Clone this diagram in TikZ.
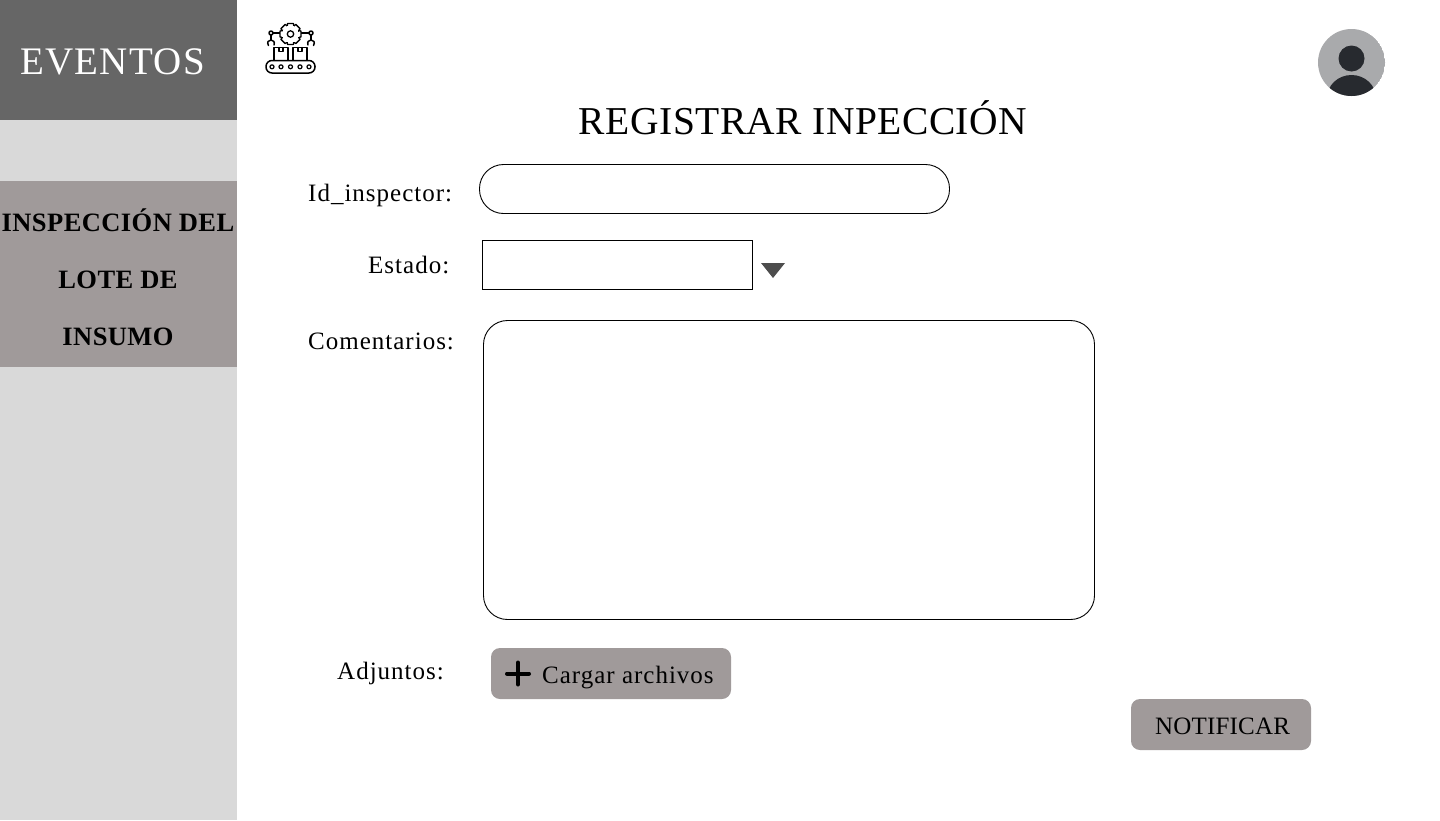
\documentclass[tikz,border=0pt]{standalone}
\usepackage{fontspec}
\setmainfont{Liberation Serif}
\definecolor{panelgray}{HTML}{D9D9D9}
\definecolor{headgray}{HTML}{666666}
\definecolor{btngray}{HTML}{A09A9A}
\definecolor{avatarbg}{HTML}{A9AAAC}
\definecolor{avatarfg}{HTML}{272A2F}
\definecolor{arrowgray}{HTML}{4D4D4D}
\usetikzlibrary{positioning}

\begin{document}
\begin{tikzpicture}[x=1pt,y=-1pt]
    % `field' is used for the input boxes.
    % `lbl' is used for the form labels.
    % `btn' is used for the two grey buttons.
    \tikzstyle{field} = [draw=black,fill=white,line width=0.9pt,inner sep=0pt]
    \tikzstyle{lbl} = [font=\fontsize{25}{25}\selectfont\addfontfeature{LetterSpace=4},inner sep=0pt,anchor=base west]
    \tikzstyle{btn} = [fill=btngray,rounded corners=9pt,inner sep=0pt]
    \tikzstyle{menu} = [font=\bfseries\fontsize{26.5}{26.5}\selectfont\addfontfeature{LetterSpace=1.6},inner sep=0pt,anchor=base]
    \tikzstyle{iconline} = [line width=1.5pt,line join=round,line cap=round]
    \useasboundingbox (0,0) rectangle (1440,820);
    % Side bar.
    \fill[panelgray] (0,0) rectangle (237,820);
    \fill[headgray] (0,0) rectangle (237,120);
    \fill[btngray] (0,181) rectangle (237,367);
    \node[white,font=\fontsize{39}{39}\selectfont\addfontfeature{LetterSpace=3.3},inner sep=0pt,anchor=base] (eventos) at (112.5,74) {EVENTOS};
    \node[menu] (menu0) at (118,231) {INSPECCIÓN DEL};
    \node[menu] (menu1) at (118,288) {LOTE DE};
    \node[menu] (menu2) at (118,345) {INSUMO};
    % Title.
    \node[font=\fontsize{39.5}{39.5}\selectfont\addfontfeature{LetterSpace=1.2},inner sep=0pt,anchor=base] (title) at (803,134) {REGISTRAR INPECCIÓN};
    % Form.
    \node[lbl] (lblid) at (308,201) {Id\_inspector:};
    \node[lbl] (lblestado) at (368,273) {Estado:};
    \node[lbl] (lblcom) at (308,349) {Comentarios:};
    \node[lbl] (lbladj) at (337,679) {Adjuntos:};
    \draw[field,rounded corners=24pt] (479.5,164.5) rectangle (949.5,213.5);
    \draw[field] (482.5,240.5) rectangle (752.5,289.5);
    \fill[arrowgray] (761,263) -- (785,263) -- (773,278) -- cycle;
    \draw[field,rounded corners=24pt] (483.5,320.5) rectangle (1094.5,619.5);
    % Buttons.
    \fill[btn] (491,648) rectangle (731,699);
    \draw[line width=4pt,line cap=round] (507,673.5) -- (529,673.5) (518,662.5) -- (518,684.5);
    \node[lbl] (upload) at (542,683) {Cargar archivos};
    \fill[btn] (1131,699) rectangle (1311,750);
    \node[font=\fontsize{25}{25}\selectfont\addfontfeature{LetterSpace=0.8},inner sep=0pt,anchor=base] (notify) at (1222.5,734) {NOTIFICAR};
    % Avatar.
    \begin{scope}
      \clip (1351.5,62.5) circle (33.5);
      \fill[avatarbg] (1351.5,62.5) circle (33.5);
      \fill[avatarfg] (1351.5,58.5) circle (13);
      \fill[avatarfg] (1351.5,98) ellipse (24.5 and 23);
    \end{scope}
    % Factory icon.
    \begin{scope}[iconline]
      \draw (273,33) -- (282,33) (298,33) -- (309,33);
      \foreach \a in {0,45,...,315} {
        \draw[fill=white,line width=1.3pt,rotate around={\a:(290.5,34)}] (287,27) -- (287.5,23.5) -- (293.5,23.5) -- (294,27);
      }
      \draw[fill=white,draw=white,line width=0pt] (290.5,34) circle (8);
      \draw[line width=1.3pt] (290.5,34) circle (3.2);
      \draw[fill=white] (271,33) circle (2);
      \draw[fill=white] (311,33) circle (2);
      \draw (271,35) -- (271,40) (311,35) -- (311,40);
      \draw (268.5,45.5) .. controls (266.5,42) and (268.5,40) .. (271,40) .. controls (273.5,40) and (275,42) .. (274,45);
      \draw (308,45) .. controls (307,42) and (308.5,40) .. (311,40) .. controls (313.5,40) and (315.5,42) .. (313.5,45.5);
      \draw (274,60) -- (274,47.5) -- (288,47.5) -- (288,60);
      \draw (293,60) -- (293,47.5) -- (307,47.5) -- (307,60);
      \draw[line width=1.2pt] (279,47.5) -- (279,51.5) -- (283,51.5) -- (283,47.5);
      \draw[line width=1.2pt] (298,47.5) -- (298,51.5) -- (302,51.5) -- (302,47.5);
      \draw[rounded corners=6pt] (266,60.5) rectangle (315,73);
      \foreach \cx in {272,281,290.5,300,309} {
        \draw[line width=1.2pt] (\cx,66.8) circle (2);
      }
    \end{scope}
\end{tikzpicture}
\end{document}
